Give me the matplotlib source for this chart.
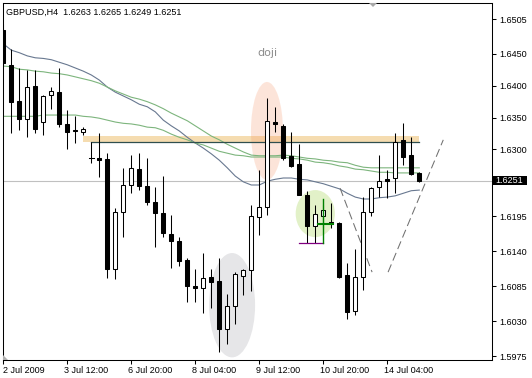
import matplotlib
matplotlib.use('Agg')
import matplotlib.pyplot as plt
from matplotlib.patches import Rectangle, Ellipse, Polygon
from matplotlib.transforms import ScaledTranslation

plt.rcParams['font.family'] = ['Liberation Sans', 'DejaVu Sans']

# ---------------- data (GBPUSD H4) ----------------
header = 'GBPUSD,H4  1.6263 1.6265 1.6249 1.6251'
opens = [1.6488, 1.6433, 1.6376, 1.6348, 1.6400, 1.6343, 1.6386, 1.6390, 1.6340, 1.6331,
         1.6327, 1.6287, 1.6287, 1.6285, 1.6112, 1.6202, 1.6244, 1.6269, 1.6242, 1.6217,
         1.6200, 1.6167, 1.6156, 1.6126, 1.6085, 1.6082, 1.6099, 1.6093, 1.6018, 1.6054,
         1.6101, 1.6110, 1.6194, 1.6209, 1.6343, 1.6337, 1.6290, 1.6277, 1.6228, 1.6180,
         1.6195, 1.6186, 1.6184, 1.6103, 1.6046, 1.6099, 1.6202, 1.6241, 1.6254, 1.6255,
         1.6315, 1.6291, 1.6263]
highs = [1.6497, 1.6458, 1.6428, 1.6425, 1.6425, 1.6386, 1.6398, 1.6428, 1.6362, 1.6353,
         1.6335, 1.6311, 1.6326, 1.6294, 1.6208, 1.6271, 1.6291, 1.6294, 1.6287, 1.6241,
         1.6258, 1.6197, 1.6162, 1.6129, 1.6112, 1.6137, 1.6112, 1.6129, 1.6073, 1.6107,
         1.6112, 1.6213, 1.6268, 1.6381, 1.6367, 1.6340, 1.6327, 1.6309, 1.6235, 1.6213,
         1.6213, 1.6216, 1.6186, 1.6121, 1.6143, 1.6225, 1.6241, 1.6291, 1.6268, 1.6326,
         1.6342, 1.6319, 1.6265]
lows = [1.6430, 1.6326, 1.6331, 1.6319, 1.6326, 1.6323, 1.6364, 1.6335, 1.6301, 1.6310,
        1.6323, 1.6279, 1.6257, 1.6098, 1.6096, 1.6162, 1.6231, 1.6236, 1.6213, 1.6147,
        1.6162, 1.6114, 1.6117, 1.6060, 1.6060, 1.6043, 1.6051, 1.5982, 1.5994, 1.6026,
        1.6071, 1.6077, 1.6165, 1.6197, 1.6327, 1.6283, 1.6272, 1.6228, 1.6153, 1.6153,
        1.6177, 1.6177, 1.6098, 1.6033, 1.6040, 1.6079, 1.6195, 1.6225, 1.6224, 1.6231,
        1.6276, 1.6260, 1.6249]
closes = [1.6436, 1.6375, 1.6348, 1.6398, 1.6332, 1.6384, 1.6392, 1.6340, 1.6327, 1.6329,
          1.6332, 1.6287, 1.6283, 1.6112, 1.6202, 1.6244, 1.6271, 1.6242, 1.6217, 1.6200,
          1.6169, 1.6156, 1.6125, 1.6085, 1.6082, 1.6098, 1.6092, 1.6018, 1.6054, 1.6104,
          1.6110, 1.6195, 1.6209, 1.6345, 1.6340, 1.6287, 1.6274, 1.6228, 1.6180, 1.6198,
          1.6205, 1.6184, 1.6099, 1.6044, 1.6099, 1.6202, 1.6239, 1.6250, 1.6250, 1.6312,
          1.6288, 1.6261, 1.6251]

ma_slate = [1.6466, 1.6456, 1.6452, 1.6447, 1.6444, 1.6443, 1.6441, 1.6437, 1.6433, 1.6428,
            1.6423, 1.6417, 1.6409, 1.6398, 1.6390, 1.6384, 1.6378, 1.6371, 1.6367, 1.6359,
            1.6346, 1.6337, 1.6329, 1.6319, 1.6310, 1.6302, 1.6293, 1.6283, 1.6271, 1.6258,
            1.6249, 1.6244, 1.6244, 1.6250, 1.6253, 1.6255, 1.6255, 1.6253, 1.6252, 1.6249,
            1.6246, 1.6242, 1.6238, 1.6231, 1.6225, 1.6222, 1.6222, 1.6224, 1.6225, 1.6227,
            1.6231, 1.6235, 1.6236]
ma_green_upper = [1.6431, 1.6430, 1.6426, 1.6425, 1.6423, 1.6422, 1.6420, 1.6419, 1.6417, 1.6414,
                  1.6411, 1.6408, 1.6404, 1.6398, 1.6392, 1.6387, 1.6382, 1.6379, 1.6375, 1.6370,
                  1.6364, 1.6357, 1.6351, 1.6345, 1.6337, 1.6329, 1.6321, 1.6315, 1.6308, 1.6302,
                  1.6296, 1.6291, 1.6290, 1.6290, 1.6290, 1.6291, 1.6290, 1.6288, 1.6286, 1.6285,
                  1.6283, 1.6282, 1.6280, 1.6279, 1.6275, 1.6272, 1.6271, 1.6271, 1.6271, 1.6271,
                  1.6271, 1.6271, 1.6271]
ma_green_lower = [1.6352, 1.6352, 1.6352, 1.6352, 1.6352, 1.6354, 1.6354, 1.6354, 1.6354, 1.6354,
                  1.6352, 1.6351, 1.6349, 1.6346, 1.6343, 1.6341, 1.6340, 1.6338, 1.6335, 1.6334,
                  1.6330, 1.6324, 1.6319, 1.6315, 1.6310, 1.6307, 1.6302, 1.6297, 1.6294, 1.6291,
                  1.6290, 1.6288, 1.6288, 1.6288, 1.6288, 1.6288, 1.6286, 1.6285, 1.6283, 1.6280,
                  1.6279, 1.6277, 1.6274, 1.6272, 1.6269, 1.6268, 1.6266, 1.6264, 1.6264, 1.6263,
                  1.6263, 1.6263, 1.6263]

x_labels = ['2 Jul 2009', '3 Jul 12:00', '6 Jul 20:00', '8 Jul 04:00',
            '9 Jul 12:00', '10 Jul 20:00', '14 Jul 04:00']
x_label_bars = [0, 8, 16, 24, 32, 40, 48]
y_ticks = [1.6505, 1.6450, 1.6400, 1.6350, 1.6300, 1.6195, 1.6140, 1.6085, 1.6030, 1.5975]
last_price = 1.6251

# drawn objects
band_x = [9.96, 51.96]
band_y = [1.6312, 1.6321]
resistance_x = [11.0, 51.96]
resistance_y = 1.6311
doji_center = (32.96, 1.6329)
doji_size = (4.0, 0.0154)
gray_center = (28.6, 1.6055)
gray_size = (5.75, 0.0164)
green_center = (39.0, 1.6199)
green_size = (4.9, 0.0074)
purple_x = [36.96, 39.96]
purple_y = 1.6153
green_v_x = 39.96
green_v_y = [1.6222, 1.6153]
green_h_x = [39.34, 41.2]
green_h_y = 1.6183
trend_a_x = [42.1, 46.1]
trend_a_y = [1.6239, 1.6107]
trend_b_x = [48.1, 55.0]
trend_b_y = [1.6107, 1.6315]
doji_text_pos = (32.96, 1.6451)

# ---------------- figure ----------------
W, H = 532, 378
fig = plt.figure(figsize=(W / 100, H / 100), dpi=100)
Lp, Rp, Tp, Bp = 2.5, 492, 3, 360
ax = fig.add_axes([Lp / W, 1 - Bp / H, (Rp - Lp) / W, (Bp - Tp) / H])
ax.set_xlim(-0.1, 61.09)
ax.set_ylim(1.596884, 1.653016)

# background ellipses / band
ax.add_patch(Ellipse(gray_center, gray_size[0], gray_size[1], facecolor='#E6E6E8',
                     edgecolor='none', zorder=0.5))
ax.add_patch(Ellipse(green_center, green_size[0], green_size[1], facecolor='#E2F1C8',
                     edgecolor='none', zorder=0.5))
ax.add_patch(Rectangle((band_x[0], band_y[0]), band_x[1] - band_x[0], band_y[1] - band_y[0],
                       facecolor='#F5DCB0', edgecolor='none', zorder=0.8))
ax.add_patch(Ellipse(doji_center, doji_size[0], doji_size[1], facecolor='#F7976B', alpha=0.25,
                     edgecolor='none', zorder=0.9))

# current price line
ax.axhline(last_price, color='#C0C0C0', lw=0.8, zorder=1)

# moving averages
xs = list(range(len(closes)))
ax.plot(xs, ma_slate, color='#687890', lw=0.8, zorder=2)
ax.plot(xs, ma_green_upper, color='#7DB57D', lw=0.8, zorder=2)
ax.plot(xs, ma_green_lower, color='#7DB57D', lw=0.8, zorder=2)

# resistance line
ax.plot(resistance_x, [resistance_y, resistance_y], color='#2F4F4F', lw=0.9, zorder=2.5)

# dashed projection lines
ax.plot(trend_a_x, trend_a_y, color='#707070', lw=0.75, dashes=(8, 4), zorder=2)
ax.plot(trend_b_x, trend_b_y, color='#707070', lw=0.75, dashes=(8, 4), zorder=2)

# candles
for i, (o, h, l, c) in enumerate(zip(opens, highs, lows, closes)):
    ax.plot([i, i], [l, h], color='black', lw=0.75, zorder=3, solid_capstyle='butt')
    lo, hi = min(o, c), max(o, c)
    if hi - lo < 0.00001:
        ax.plot([i - 0.3, i + 0.3], [o, o], color='black', lw=0.75, zorder=4)
    else:
        ax.add_patch(Rectangle((i - 0.25, lo), 0.5, hi - lo,
                               facecolor='white' if c > o else 'black',
                               edgecolor='black', lw=0.75, zorder=4))

# annotations in the green zone
ax.plot(purple_x, [purple_y, purple_y], color='#800080', lw=0.9, zorder=5)
ax.plot([green_v_x, green_v_x], green_v_y, color='#008000', lw=1.0, zorder=5)
ax.plot(green_h_x, [green_h_y, green_h_y], color='#008000', lw=1.5, zorder=5)

ax.text(doji_text_pos[0], doji_text_pos[1], 'doji', ha='center', va='center',
        color='#8C8C8C', fontsize=8, family=['DejaVu Sans'])

# axes styling
for s in ax.spines.values():
    s.set_linewidth(0.75)
    s.set_color('black')
ax.set_xticks(x_label_bars)
ax.set_xticklabels(x_labels, ha='left')
ax.tick_params(axis='x', length=3, width=0.75, pad=1.5, labelsize=6.5, direction='out')
for lab in ax.get_xticklabels()[1:]:
    lab.set_transform(lab.get_transform() + ScaledTranslation(-3.5 / 100, 0, fig.dpi_scale_trans))
ax.yaxis.tick_right()
ax.set_yticks(y_ticks + [last_price])
ax.set_yticklabels(['%.4f' % v for v in y_ticks] + [''])
ax.tick_params(axis='y', length=3, width=0.75, pad=2, labelsize=6.5, direction='out')

# header
fig.text(6 / W, 1 - 12.5 / H, header, fontsize=6.5, va='center', ha='left')

# current price tag
y_disp = ax.transData.transform((0, last_price))[1]
fig.add_artist(Rectangle((493 / W, (y_disp - 4.5) / H), 34 / W, 9 / H,
                         transform=fig.transFigure, facecolor='black', edgecolor='none'))
fig.text(495.5 / W, y_disp / H, '%.4f' % last_price, color='white', fontsize=6.5,
         va='center', ha='left')

# chart shift markers
fig.add_artist(Polygon([[369 / W, 1 - 3 / H], [377 / W, 1 - 3 / H], [373 / W, 1 - 7 / H]],
                       closed=True, transform=fig.transFigure, facecolor='#A8A8A8',
                       edgecolor='none'))
fig.add_artist(Polygon([[3 / W, 1 - 355 / H], [3 / W, 1 - 359.5 / H], [7.5 / W, 1 - 359.5 / H]],
                       closed=True, transform=fig.transFigure, facecolor='#B0B0B0',
                       edgecolor='none'))

fig.savefig('out.png', dpi=100)
